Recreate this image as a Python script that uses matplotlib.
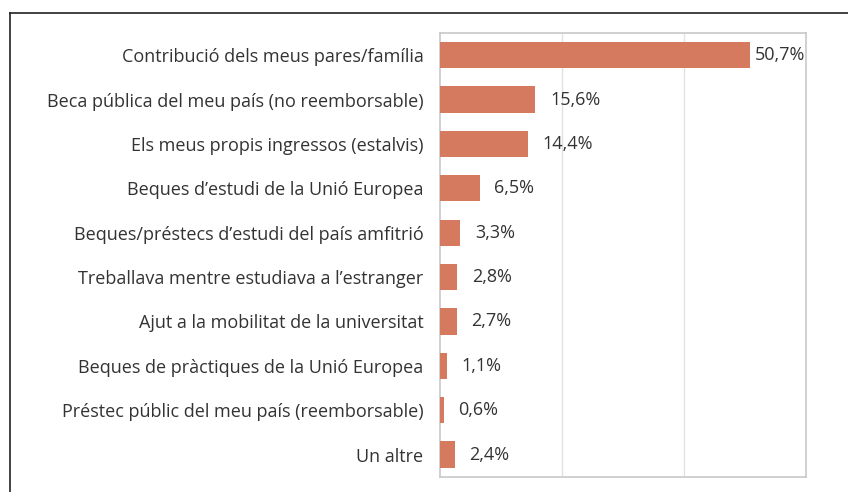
import matplotlib
matplotlib.use("Agg")
import matplotlib.pyplot as plt
from matplotlib.lines import Line2D

categories = [
    "Contribució dels meus pares/família",
    "Beca pública del meu país (no reemborsable)",
    "Els meus propis ingressos (estalvis)",
    "Beques d’estudi de la Unió Europea",
    "Beques/préstecs d’estudi del país amfitrió",
    "Treballava mentre estudiava a l’estranger",
    "Ajut a la mobilitat de la universitat",
    "Beques de pràctiques de la Unió Europea",
    "Préstec públic del meu país (reemborsable)",
    "Un altre",
]
values = [50.7, 15.6, 14.4, 6.5, 3.3, 2.8, 2.7, 1.1, 0.6, 2.4]
labels = ["50,7%", "15,6%", "14,4%", "6,5%", "3,3%", "2,8%", "2,7%", "1,1%", "0,6%", "2,4%"]

bar_color = "#d5795f"
text_color = "#333333"

fig = plt.figure(figsize=(8.48, 4.92), dpi=100)
ax = fig.add_axes([0.519, 0.031, 0.432, 0.902])

y = list(range(len(categories)))
ax.barh(y, values, height=0.59, color=bar_color, zorder=3)
ax.set_ylim(len(categories) - 0.5, -0.5)
ax.set_xlim(0, 60)
ax.set_xticks([20, 40])
ax.tick_params(axis="x", bottom=False, labelbottom=False)
ax.grid(axis="x", color="#e2e2e2", lw=1, zorder=0)

ax.set_yticks(y)
ax.set_yticklabels(categories, fontsize=13, color=text_color, family="Open Sans")
ax.tick_params(axis="y", length=0, pad=12)

for s in ax.spines.values():
    s.set_color("#c8c8c8")
    s.set_linewidth(1.2)

for i, (v, lab) in enumerate(zip(values, labels)):
    off = 0.9 if v > 45 else 2.4
    ax.text(v + off, i, lab, va="center", ha="left", fontsize=13,
            color=text_color, family="Open Sans")

# outer frame (top and left edge)
fig.add_artist(Line2D([10 / 848, 1.0], [1 - 13 / 492, 1 - 13 / 492], color="#222222", lw=1.2))
fig.add_artist(Line2D([10 / 848, 10 / 848], [0, 1 - 13 / 492], color="#222222", lw=1.2))

fig.savefig("out.png", dpi=100)
